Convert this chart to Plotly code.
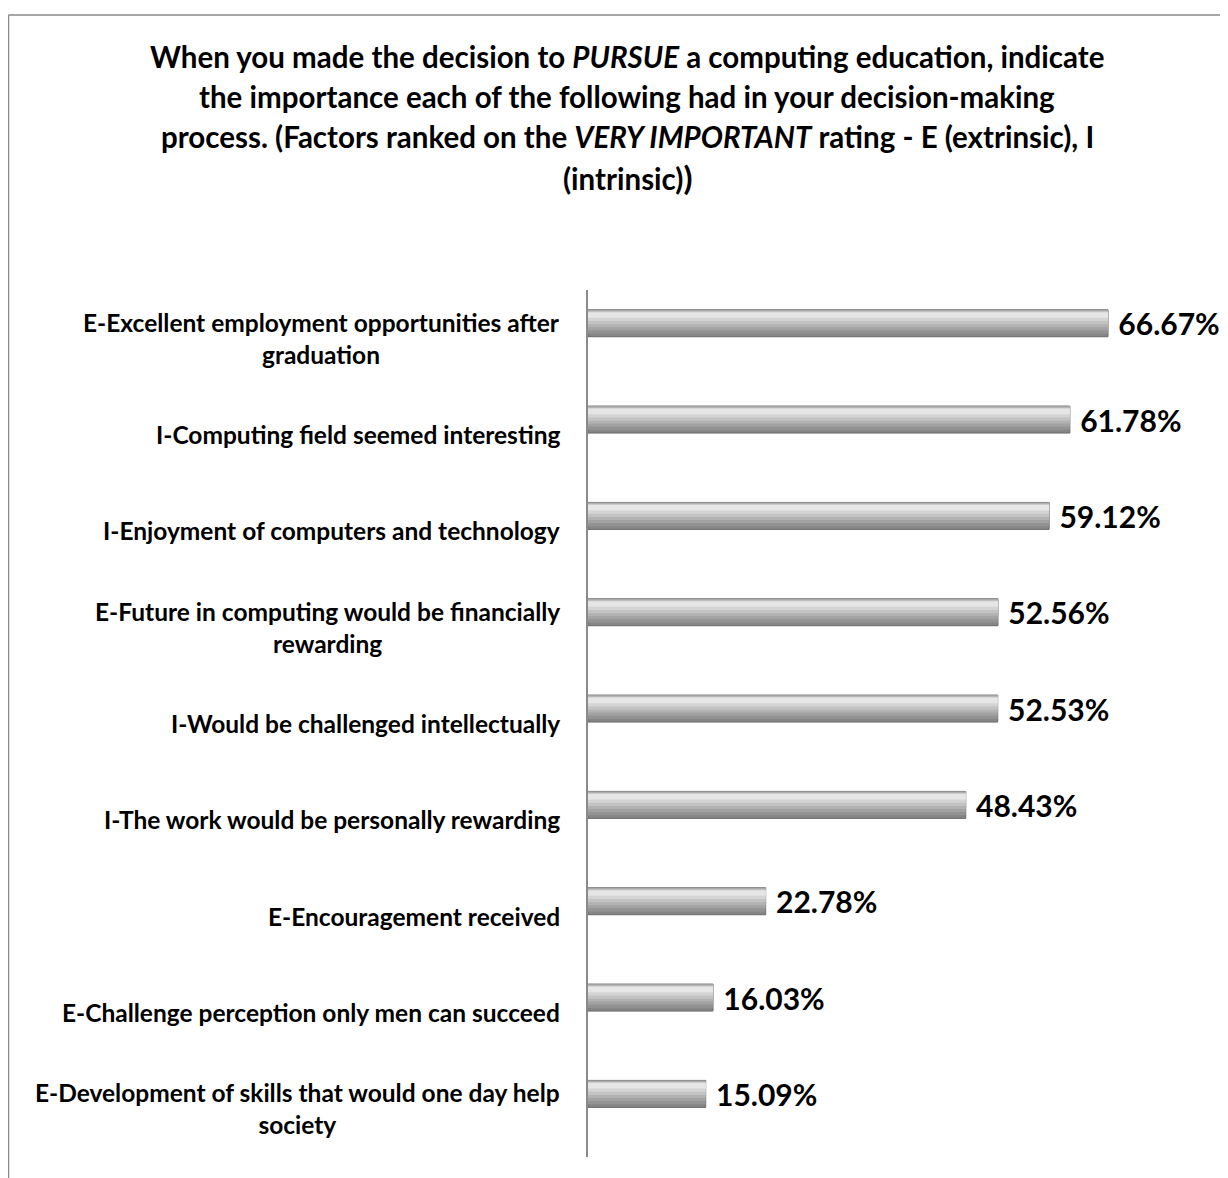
import plotly.graph_objects as go

categories = [
    "E-Excellent employment opportunities after<br>graduation",
    "I-Computing field seemed interesting",
    "I-Enjoyment of computers and technology",
    "E-Future in computing would be financially<br>rewarding",
    "I-Would be challenged intellectually",
    "I-The work would be personally rewarding",
    "E-Encouragement received",
    "E-Challenge perception only men can succeed",
    "E-Development of skills that would one day help<br>society",
]
values = [66.67, 61.78, 59.12, 52.56, 52.53, 48.43, 22.78, 16.03, 15.09]
value_labels = ["66.67%", "61.78%", "59.12%", "52.56%", "52.53%", "48.43%", "22.78%", "16.03%", "15.09%"]
title_lines = [
    "When you made the decision to <i>PURSUE</i> a computing education, indicate",
    "the importance each of the following had in your decision-making",
    "process. (Factors ranked on the <i>VERY IMPORTANT</i> rating - E (extrinsic), I",
    "(intrinsic)<span style='font-size:33px'>)</span>",
]

# page body has an 8px margin, so figure pixel coords = reference coords - 8
W, H = 1220, 1170
ML, MR, MT, MB = 580, 16, 282, 21
PW, PH = W - ML - MR, H - MT - MB
FONT = "Lato"

def px_x(x):
    return (x - ML) / PW

def px_y(y):
    return (H - MB - y) / PH

fig = go.Figure()

bar_w = 0.28
bar_off = -0.295
# layered bars to imitate a shaded cylinder (start fraction, size fraction, colour)
layers = [
    (0.00, 1.00, "#868686"),
    (0.00, 0.88, "#939393"),
    (0.00, 0.76, "#a2a2a2"),
    (0.03, 0.62, "#b2b2b2"),
    (0.06, 0.48, "#c3c3c3"),
    (0.08, 0.34, "#d4d4d4"),
    (0.10, 0.20, "#e6e6e6"),
]
for i, (start, frac, col) in enumerate(layers):
    line = dict(color="#6a6a6a", width=1) if i == 0 else dict(width=0)
    fig.add_trace(go.Bar(
        x=values, y=categories, orientation="h",
        width=bar_w * frac, offset=bar_off + bar_w * start,
        marker=dict(color=col, line=line),
        text=value_labels if i == 0 else None,
        texttemplate="\u00a0%{text}" if i == 0 else None,
        textposition="outside" if i == 0 else "none",
        textfont=dict(family=FONT, size=30, color="#000000", weight="bold"),
        constraintext="none", cliponaxis=False,
        hoverinfo="skip", showlegend=False,
    ))

annotations = []
for c in categories:
    annotations.append(dict(
        x=0, xref="paper", y=c, yref="y", xanchor="right", yanchor="middle",
        xshift=-26, text=c, showarrow=False, align="center",
        font=dict(family=FONT, size=24.5, color="#000000", weight="bold"),
    ))
for k, t in enumerate(title_lines):
    annotations.append(dict(
        x=px_x(619), xref="paper", y=px_y(48 + k * 40.5), yref="paper",
        xanchor="center", yanchor="middle", text=t, showarrow=False,
        font=dict(family=FONT, size=29.5, color="#000000", weight="bold"),
    ))

shapes = [
    dict(type="line", xref="paper", yref="paper", x0=px_x(0.5), x1=px_x(0.5), y0=px_y(7), y1=px_y(1175),
         line=dict(color="#8a8a8a", width=1.5)),
    dict(type="line", xref="paper", yref="paper", x0=px_x(0.5), x1=px_x(1225), y0=px_y(7), y1=px_y(7),
         line=dict(color="#8a8a8a", width=1.5)),
]

fig.update_layout(
    width=W, height=H, barmode="overlay",
    margin=dict(l=ML, r=MR, t=MT, b=MB),
    paper_bgcolor="white", plot_bgcolor="white",
    xaxis=dict(range=[0, 80], visible=False),
    yaxis=dict(type="category", categoryorder="array", categoryarray=categories,
               range=[8.5, -0.5], showticklabels=False, showgrid=False, zeroline=False,
               showline=True, linecolor="#8a8a8a", linewidth=1.5, ticks=""),
    annotations=annotations, shapes=shapes,
    font=dict(family=FONT),
)
fig.write_html("out.html")
